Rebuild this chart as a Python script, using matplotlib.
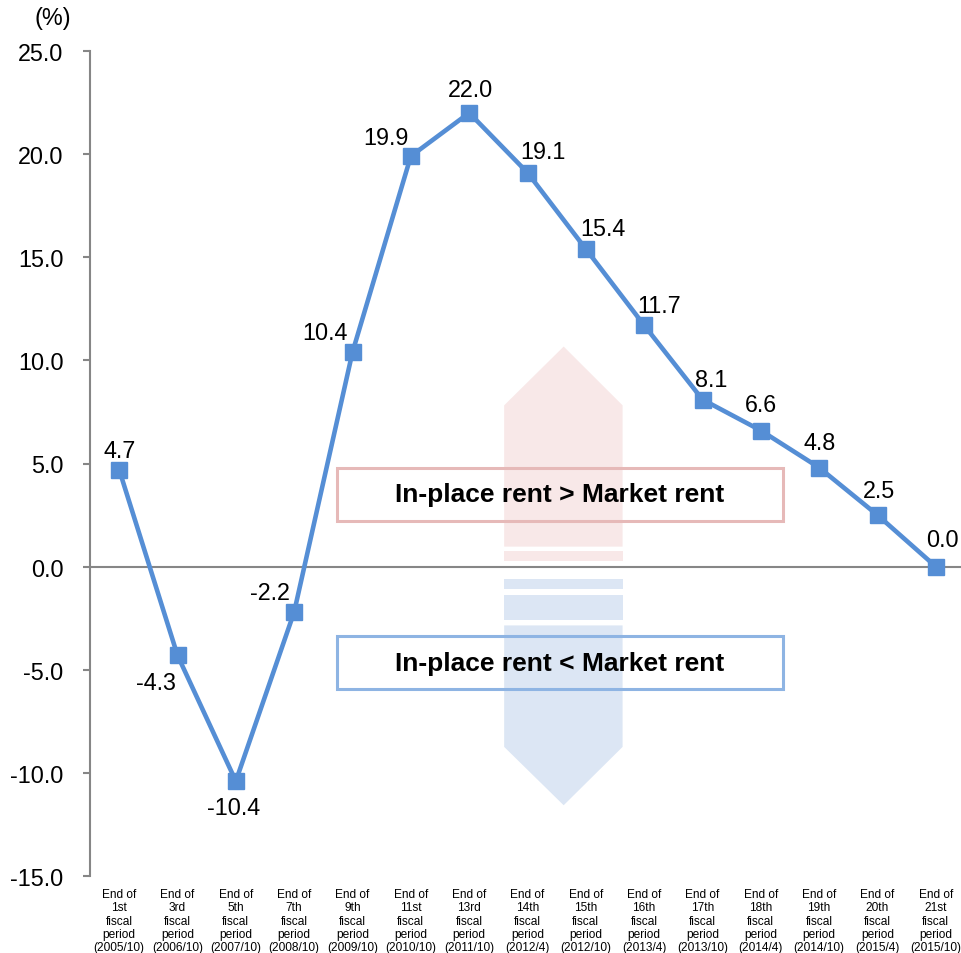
import matplotlib
matplotlib.use("Agg")
import matplotlib.pyplot as plt
from matplotlib.patches import Polygon, Rectangle

plt.rcParams['font.family'] = ['Liberation Sans', 'DejaVu Sans']

categories = [
    "End of\n1st\nfiscal\nperiod\n(2005/10)",
    "End of\n3rd\nfiscal\nperiod\n(2006/10)",
    "End of\n5th\nfiscal\nperiod\n(2007/10)",
    "End of\n7th\nfiscal\nperiod\n(2008/10)",
    "End of\n9th\nfiscal\nperiod\n(2009/10)",
    "End of\n11st\nfiscal\nperiod\n(2010/10)",
    "End of\n13rd\nfiscal\nperiod\n(2011/10)",
    "End of\n14th\nfiscal\nperiod\n(2012/4)",
    "End of\n15th\nfiscal\nperiod\n(2012/10)",
    "End of\n16th\nfiscal\nperiod\n(2013/4)",
    "End of\n17th\nfiscal\nperiod\n(2013/10)",
    "End of\n18th\nfiscal\nperiod\n(2014/4)",
    "End of\n19th\nfiscal\nperiod\n(2014/10)",
    "End of\n20th\nfiscal\nperiod\n(2015/4)",
    "End of\n21st\nfiscal\nperiod\n(2015/10)",
]
values = [4.7, -4.3, -10.4, -2.2, 10.4, 19.9, 22.0, 19.1, 15.4, 11.7, 8.1, 6.6, 4.8, 2.5, 0.0]
y_ticks = [25.0, 20.0, 15.0, 10.0, 5.0, 0.0, -5.0, -10.0, -15.0]

# label offsets in pixels (dx, dy) -- styling only
label_offsets = [(0, 19), (-22, -27), (-2, -26), (-24, 19), (-28, 20), (-25, 19), (1, 23),
                 (15, 21), (17, 20), (15, 20), (9, 20), (0, 26), (0, 25), (2, 25), (7, 27)]

LINE = "#558ED5"
GRAY = "#868686"

fig = plt.figure(figsize=(9.61, 9.54), dpi=100)
ax = fig.add_axes([90/961, 1-877/954, 875/961, 825/954])

x = list(range(len(values)))
ax.set_xlim(-0.5, len(values) - 0.5)
ax.set_ylim(-15, 25)

# background arrows
up = Polygon([(6.60, 0.97), (6.60, 7.82), (7.62, 10.67), (8.63, 7.82), (8.63, 0.97)],
             closed=True, facecolor="#F8E8E8", edgecolor="none", zorder=1)
ax.add_patch(up)
ax.add_patch(Rectangle((6.60, 0.26), 2.03, 0.48, facecolor="#F8E8E8", edgecolor="none", zorder=1))
down = Polygon([(6.60, -2.85), (6.60, -8.74), (7.62, -11.57), (8.63, -8.74), (8.63, -2.85)],
               closed=True, facecolor="#DCE6F4", edgecolor="none", zorder=1)
ax.add_patch(down)
ax.add_patch(Rectangle((6.60, -1.10), 2.03, 0.52, facecolor="#DCE6F4", edgecolor="none", zorder=1))
ax.add_patch(Rectangle((6.60, -2.60), 2.03, 1.24, facecolor="#DCE6F4", edgecolor="none", zorder=1))

# boxes
ax.add_patch(Rectangle((3.73, 2.20), 7.65, 2.59, facecolor="none", edgecolor="#E6B9B8", lw=2.2, zorder=2))
ax.add_patch(Rectangle((3.73, -5.92), 7.65, 2.54, facecolor="none", edgecolor="#8EB4E3", lw=2.2, zorder=2))
ax.text(7.55, 3.50, "In-place rent > Market rent", ha="center", va="center",
        fontsize=19, fontweight="bold", zorder=3)
ax.text(7.55, -4.65, "In-place rent < Market rent", ha="center", va="center",
        fontsize=19, fontweight="bold", zorder=3)

ax.axhline(0, color=GRAY, lw=1.5, zorder=2)

ax.plot(x, values, color=LINE, lw=3.3, marker="s", markersize=11.5, zorder=4, clip_on=False)

for xi, v, (dx, dy) in zip(x, values, label_offsets):
    ax.annotate(f"{v:.1f}", (xi, v), xytext=(dx, dy), textcoords="offset pixels",
                ha="center", va="center", fontsize=16.8, zorder=5)

ax.set_yticks(y_ticks)
ax.set_yticklabels([f"{t:.1f}" for t in y_ticks], fontsize=16.8)
ax.set_xticks(x)
ax.set_xticklabels(categories, fontsize=8.6, linespacing=1.15)

for s in ["top", "right", "bottom"]:
    ax.spines[s].set_visible(False)
ax.spines["left"].set_color(GRAY)
ax.spines["left"].set_linewidth(1.5)
ax.tick_params(axis="y", direction="out", length=5, width=1.5, color=GRAY, pad=14)
ax.tick_params(axis="x", length=0, pad=8.5)

fig.text(53/961, 1-18/954, "(%)", ha="center", va="center", fontsize=16.8)

fig.savefig("out.png", dpi=100)
